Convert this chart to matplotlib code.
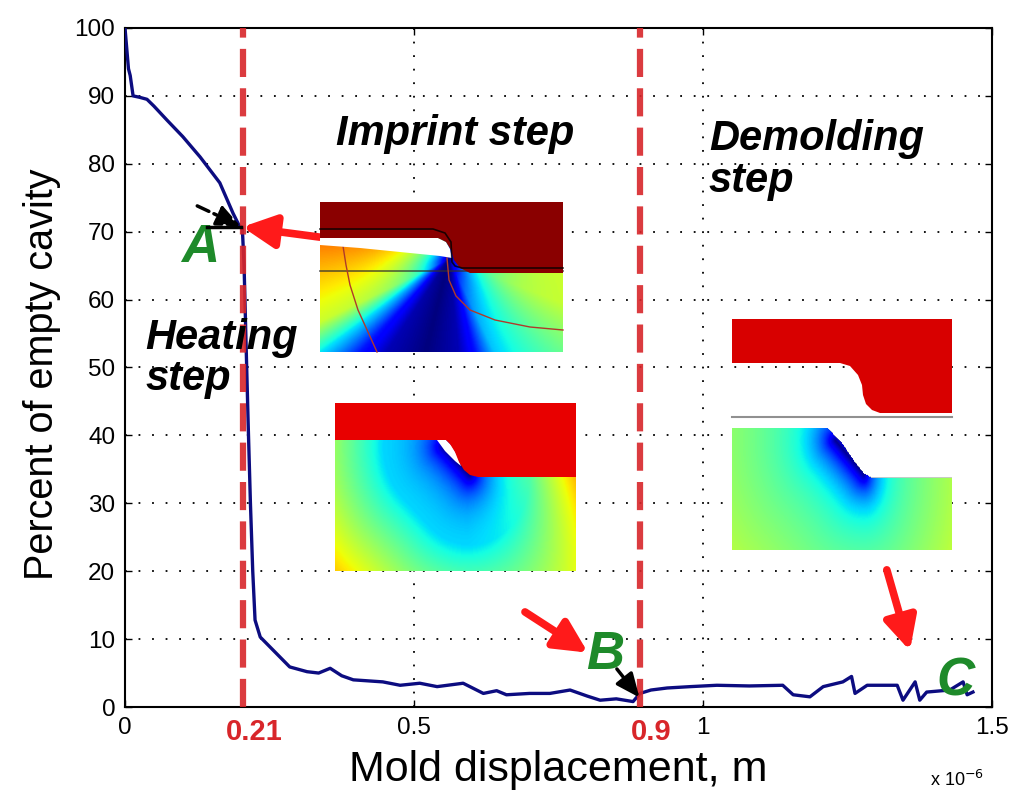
import numpy as np
import matplotlib
matplotlib.use('Agg')
import matplotlib.pyplot as plt
from matplotlib.patches import Polygon

plt.rcParams['font.family'] = ['Liberation Sans', 'DejaVu Sans']

# mold displacement in units of 1e-6 m, percent of empty cavity
disp = [0, 0.003, 0.006, 0.009, 0.014, 0.025, 0.038, 0.05, 0.073, 0.1,
        0.13, 0.164, 0.187, 0.197, 0.203, 0.206, 0.209, 0.213, 0.217, 0.221,
        0.225, 0.234, 0.256, 0.285, 0.315, 0.335, 0.355, 0.375, 0.395, 0.446,
        0.476, 0.51, 0.54, 0.585, 0.62, 0.643, 0.66, 0.7, 0.735, 0.77,
        0.8, 0.822, 0.85, 0.879, 0.891, 0.91, 0.938, 0.978, 1.024, 1.08,
        1.138, 1.156, 1.185, 1.208, 1.242, 1.257, 1.263, 1.284, 1.336, 1.346,
        1.367, 1.375, 1.387, 1.427, 1.45, 1.457, 1.467]
empty = [100, 97, 94, 93, 90, 89.8, 89.5, 88.5, 86.4, 84,
         81, 77.2, 72.7, 71, 70.5, 65, 55, 42, 30, 20,
         12.8, 10.3, 8.4, 5.9, 5.2, 5.0, 5.7, 4.6, 4.0, 3.7,
         3.2, 3.5, 3.0, 3.5, 2.0, 2.4, 1.8, 2.0, 2.0, 2.5,
         1.6, 1.0, 1.2, 0.8, 2.0, 2.5, 2.8, 3.0, 3.2, 3.1,
         3.2, 1.8, 1.5, 3.0, 3.7, 4.5, 2.0, 3.2, 3.2, 1.0,
         3.7, 1.0, 2.2, 2.5, 3.7, 1.8, 2.2]

step_lines = [0.204, 0.891]
step_labels = ['0.21', '0.9']
xticks = [0, 0.5, 1, 1.5]
xticklabels = ['0', '0.5', '1', '1.5']
yticks = list(range(0, 101, 10))

fig = plt.figure(figsize=(10.24, 8.11), dpi=100)
ax = fig.add_axes([125/1024, 1-707/811, 867/1024, 679/811])

ax.plot(disp, empty, color='#0c0c80', lw=2.4, zorder=4)
for xv in step_lines:
    ax.axvline(xv, color='#d8262a', lw=4.5, ls=(0, (4.5, 1.8)), alpha=0.9, zorder=5)

ax.set_xlim(0, 1.5)
ax.set_ylim(0, 100)
ax.set_xticks(xticks)
ax.set_xticklabels(xticklabels)
ax.set_yticks(yticks)
ax.tick_params(direction='in', length=5, width=1, labelsize=17.5, top=True, right=True, pad=7)
ax.grid(True, color='black', ls=(0, (1, 6.5)), lw=1.3)
ax.set_axisbelow(True)
for s in ax.spines.values():
    s.set_linewidth(1.5)

for xv, lab in zip(step_lines, step_labels):
    ax.text(xv + 0.02, -1.6, lab, color='#d8262a', fontsize=21, fontweight='bold',
            ha='center', va='top')

ax.set_xlabel('Mold displacement, m', fontsize=31, labelpad=8)
ax.set_ylabel('Percent of empty cavity', fontsize=28.5)
ax.yaxis.set_label_coords(-0.074, 0.49)
fig.text(0.935, 0.038, r'x 10$^{-6}$', fontsize=13, ha='center', va='center')

# stage labels
style = dict(fontsize=30, fontweight='bold', fontstyle='italic', color='black', zorder=6)
ax.text(0.571, 84.4, 'Imprint step', ha='center', va='center', **style)
ax.text(1.01, 80.6, 'Demolding\nstep', ha='left', va='center', linespacing=1.05, **style)
ax.text(0.035, 51.3, 'Heating\nstep', ha='left', va='center', linespacing=1.05, **style)

green = dict(fontsize=38, fontweight='bold', fontstyle='italic', color='#1e8a2a',
             ha='center', va='center', zorder=6)
ax.text(0.13, 67.6, 'A', **green)
ax.text(0.83, 7.6, 'B', **green)
ax.text(1.436, 3.7, 'C', **green)

# red arrows
red_arrow = dict(arrowstyle='-|>,head_length=0.9,head_width=0.45', color='#ff1a1a',
                 lw=5.5, mutation_scale=22, shrinkA=0, shrinkB=0)
ax.annotate('', xy=(0.203, 70.7), xytext=(0.337, 69.2), arrowprops=red_arrow,
            annotation_clip=False, zorder=7)
ax.annotate('', xy=(0.801, 8.0), xytext=(0.692, 14.0), arrowprops=red_arrow, zorder=7)
ax.annotate('', xy=(1.358, 8.3), xytext=(1.318, 20.2), arrowprops=red_arrow, zorder=7)

# black arrows
black_arrow = dict(arrowstyle='-|>,head_length=0.8,head_width=0.35', color='black',
                   lw=2.5, mutation_scale=18, shrinkA=0, shrinkB=0, ls='--')
ax.annotate('', xy=(0.2, 70.8), xytext=(0.125, 73.8), arrowprops=black_arrow, zorder=7)
ax.plot([0.142, 0.2], [70.7, 70.7], color='black', lw=2.5, zorder=7)
black_arrow2 = dict(black_arrow, ls='-')
ax.annotate('', xy=(0.89, 1.4), xytext=(0.851, 5.6), arrowprops=black_arrow2, zorder=7)

# ---- inset simulation snapshots (drawn in pixel space) ----
ov = fig.add_axes([0, 0, 1, 1], zorder=3)
ov.set_xlim(0, 1024)
ov.set_ylim(811, 0)
ov.axis('off')
ov.patch.set_alpha(0)

cmap = plt.get_cmap('jet').copy()
cmap.set_bad(alpha=0)


def grid(n=220, m=160):
    u = np.linspace(0, 1, n)
    v = np.linspace(0, 1, m)
    return np.meshgrid(u, v)


def seg_dist(U, V, p, q, sy=1.0):
    # distance from each grid point to segment p-q, vertical squeezed by sy
    px_, py_ = p
    qx_, qy_ = q
    ex, ey = qx_ - px_, (qy_ - py_) * sy
    t = ((U - px_) * ex + (V - py_) * sy * ey) / (ex**2 + ey**2)
    t = np.clip(t, 0, 1)
    return np.hypot(U - (px_ + t * ex), (V - py_) * sy - t * ey)


# inset 1 : end of heating, fan of low values under the mold corner
U, V = grid()
X, Y = U * 243, V * 150
dxp, dyp = X - 129, 93 - Y
rel = np.degrees(np.arctan2(-dxp, dyp)) - 14
left = np.interp(rel, [0, 20, 30, 40, 50, 85, 180], [0.0, 0.05, 0.15, 0.35, 0.6, 0.8, 0.85])
right = np.interp(-rel, [0, 20, 30, 40, 60, 83, 180], [0.0, 0.05, 0.15, 0.33, 0.45, 0.6, 0.66])
F1 = np.where(rel >= 0, left, right) * (1 - np.exp(-np.hypot(dxp, dyp) / 30))
ov.imshow(np.clip(F1, 0, 1), cmap=cmap, vmin=0, vmax=1, origin='lower',
          extent=(320, 563, 352, 202), aspect='auto', interpolation='bilinear', zorder=1)
ov.plot([320, 563], [271, 271], color='#303030', lw=1.3, alpha=0.7, zorder=2)
ov.plot([343, 346, 350, 358, 368, 377], [246, 265, 285, 310, 332, 352], color='#b03a2a', lw=1, zorder=2)
ov.plot([447, 449, 456, 470, 495, 530, 563], [258, 280, 296, 310, 320, 327, 330], color='#b03a2a', lw=1, zorder=2)
ov.add_patch(Polygon([(320, 238), (438, 238), (446, 242), (450, 249), (452, 258), (440, 256),
                      (400, 252), (360, 248), (320, 245)], closed=True, fc='white', ec='none', zorder=3))
ov.add_patch(Polygon([(320, 202), (563, 202), (563, 273), (470, 273), (460, 268), (454, 260),
                      (451, 250), (446, 242), (438, 238), (320, 238)], closed=True,
                     fc='#8a0000', ec='none', zorder=4))
ov.plot([320, 433, 445, 451, 452, 455, 462, 475, 563], [229, 229, 233, 242, 262, 266, 268, 268, 268],
        color='black', lw=1.2, alpha=0.8, zorder=5)

# inset 2 : end of imprint
U, V = grid()
r = seg_dist(U, V, (0.45, 0.74), (0.56, 0.57), sy=0.6)
F2 = (0.02 + 0.33 * (1 - np.exp(-r / 0.08)) + 0.9 * np.maximum(r - 0.25, 0)
      + 0.35 * V * np.maximum(0, U - 0.55) / 0.45)
ov.imshow(np.clip(F2, 0, 1), cmap=cmap, vmin=0, vmax=1, origin='lower',
          extent=(335, 576, 571, 403), aspect='auto', interpolation='bilinear', zorder=1)
ov.add_patch(Polygon([(437, 440), (446, 440), (452, 446), (457, 455), (461, 466), (455, 461),
                      (445, 451)], closed=True, fc='white', ec='none', zorder=3))
ov.add_patch(Polygon([(335, 403), (576, 403), (576, 477), (478, 477), (470, 475), (464, 470),
                      (459, 462), (455, 452), (450, 444), (446, 440), (335, 440)], closed=True,
                     fc='#e80000', ec='none', zorder=4))

# inset 3 : after demolding
U, V = grid(220, 130)
x_top = np.interp(U, [0, 0.436, 0.5, 0.56, 0.6, 0.64, 1], [1, 1, 0.88, 0.72, 0.63, 0.59, 0.59])
Us = np.where(U > 0.6, 0.6 + (U - 0.6) * 1.5, U)
r = seg_dist(Us, V, (0.47, 0.9), (0.6, 0.62), sy=0.45)
F3 = 0.02 + 0.36 * (1 - np.exp(-r / 0.09)) + 0.3 * r
F3 = np.where(V > x_top, np.nan, np.clip(F3, 0, 1))
ov.imshow(F3, cmap=cmap, vmin=0, vmax=1, origin='lower',
          extent=(732, 952, 550, 428), aspect='auto', interpolation='bilinear', zorder=1)
ov.plot([732, 952], [417, 417], color='#909090', lw=1.5, zorder=2)
ov.add_patch(Polygon([(732, 319), (952, 319), (952, 413), (880, 413), (872, 410), (866, 404),
                      (863, 395), (862, 385), (858, 375), (850, 366), (840, 363), (732, 363)],
                     closed=True, fc='#d80000', ec='none', zorder=4))

fig.savefig('out.png', dpi=100)
